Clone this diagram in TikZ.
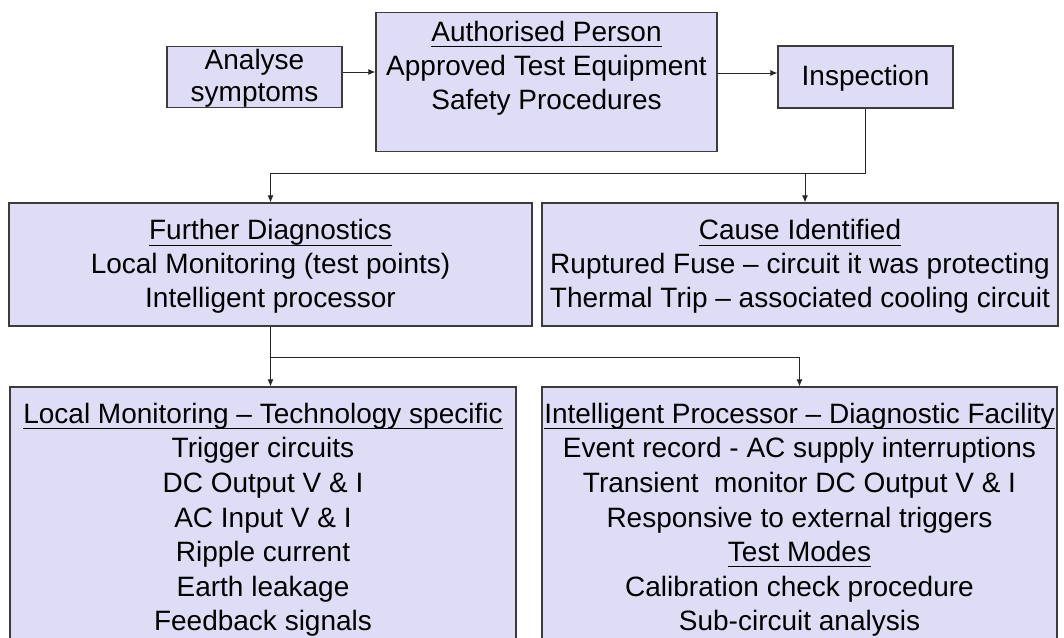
\documentclass[tikz,border=0pt]{standalone}
\usepackage{fontspec}
\setmainfont{Liberation Sans}
\usetikzlibrary{arrows.meta,calc}
\definecolor{boxfill}{RGB}{223,221,245}
\definecolor{boxline}{RGB}{60,60,60}
\newcommand\myul[1]{\setbox0\hbox{#1}\rlap{\rule[-6pt]{\wd0}{1.1pt}}\box0}
\tikzset{
  box/.style={draw=boxline, line width=1.2pt, fill=boxfill, inner sep=0pt},
  txt/.style={align=center, font=\fontsize{28}{34}\selectfont, inner sep=0pt},
  arr/.style={draw=black!85, line width=1pt, -{Latex[length=7pt,width=6pt]}},
}
\begin{document}
\begin{tikzpicture}[x=1pt,y=-1pt]
\useasboundingbox (0,0) rectangle (1064,637);
\clip (0,0) rectangle (1064,637);
\fill[white] (0,0) rectangle (1064,637);
% top row
\node[box, minimum width=175pt, minimum height=61pt] (an) at (254.5,77) {};
\node[txt, font=\fontsize{28}{32}\selectfont] (anT) at (254.5,78) {Analyse\\symptoms};
\node[box, minimum width=341pt, minimum height=139pt] (ap) at (546.5,82) {};
\node[txt] (apT) at (546.5,68) {\myul{Authorised Person}\\Approved Test Equipment\\Safety Procedures};
\node[box, minimum width=175pt, minimum height=62pt] (in) at (865.5,77) {};
\node[txt] (inT) at (865.5,78.5) {Inspection};
% middle row
\node[box, minimum width=523pt, minimum height=123pt] (fd) at (270.5,264.5) {};
\node[txt] (fdT) at (270.5,266.5) {\myul{Further Diagnostics}\\Local Monitoring (test points)\\Intelligent processor};
\node[box, minimum width=516pt, minimum height=123pt] (ci) at (800,264.5) {};
\node[txt] (ciT) at (800,266.5) {\myul{Cause Identified}\\Ruptured Fuse – circuit it was protecting\\Thermal Trip – associated cooling circuit};
% bottom row
\node[box, minimum width=506pt, minimum height=313pt] (lm) at (263,543.5) {};
\node[txt, anchor=north, font=\fontsize{28}{34.5}\selectfont] (lmT) at (263,403) {\myul{Local Monitoring – Technology specific}\\Trigger circuits\\DC Output V \& I\\AC Input V \& I\\Ripple current\\Earth leakage\\Feedback signals};
\node[box, minimum width=515pt, minimum height=313pt] (ip) at (799.5,543.5) {};
\node[txt, anchor=north, font=\fontsize{28}{34.5}\selectfont] (ipT) at (799.5,403) {\myul{Intelligent Processor – Diagnostic Facility}\\Event record - AC supply interruptions\\Transient~ monitor DC Output V \& I\\Responsive to external triggers\\\myul{Test Modes}\\Calibration check procedure\\Sub-circuit analysis};
% connectors
\coordinate (anE) at ($(an.east)+(0,-5)$);
\draw[arr] (anE) -- (anE -| ap.west);
\coordinate (inW) at ($(in.west)+(0,-4)$);
\draw[arr] (inW -| ap.east) -- (inW);
\coordinate (j1) at ($(in.south)+(0,65)$);
\draw[arr] (in.south) -- (j1) -| (fd.north);
\coordinate (c1) at ($(ci.north)+(5,0)$);
\draw[arr] (c1 |- j1) -- (c1);
\coordinate (j2) at ($(fd.south)+(0,31)$);
\draw[arr] (fd.south) -- (fd.south |- lm.north);
\draw[arr] (j2) -| (ip.north);
\end{tikzpicture}
\end{document}
